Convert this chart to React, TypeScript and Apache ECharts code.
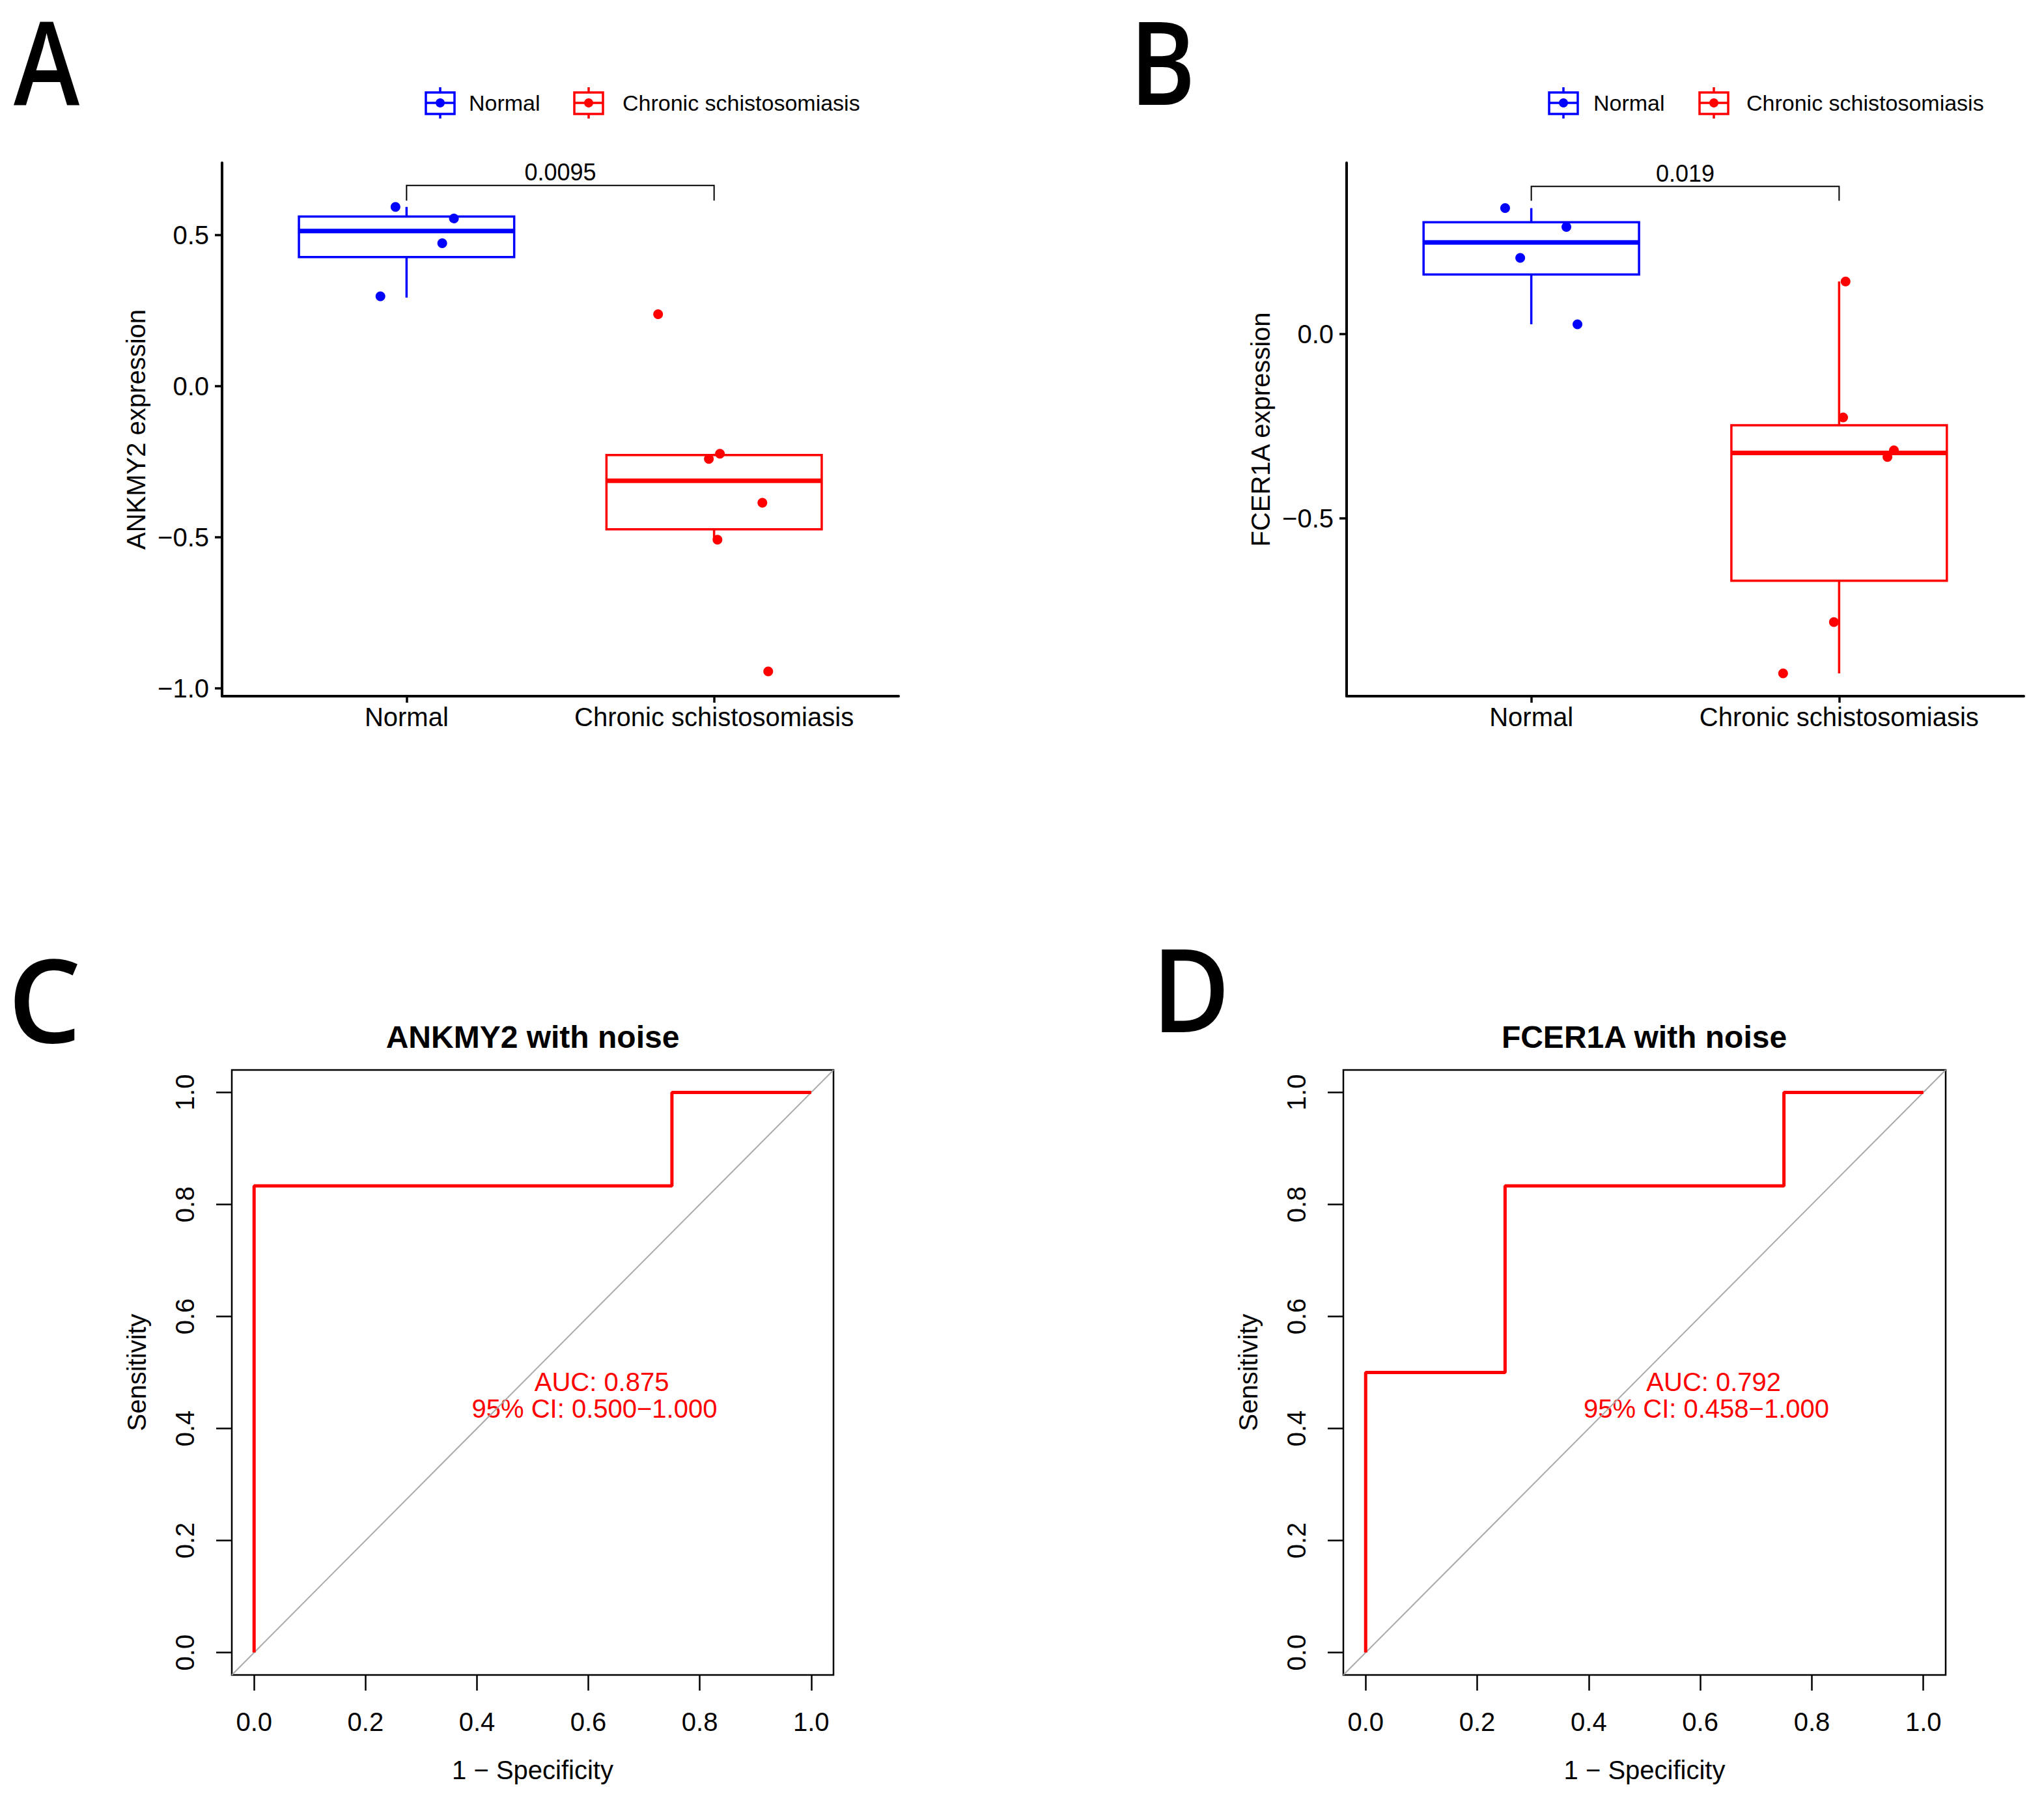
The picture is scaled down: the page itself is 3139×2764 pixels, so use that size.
import { useEffect, useRef } from "react";
import * as echarts from "echarts";

const FONT = '"Liberation Sans", Arial, Helvetica, sans-serif';
const BLUE = "#0000FF";
const RED = "#FF0000";

const groups = ["Normal", "Chronic schistosomiasis"];

// Panel A - ANKMY2 expression (jitter = horizontal offset from group centre)
const ankNormalY = [0.593, 0.555, 0.473, 0.297];
const ankNormalJitter = [-0.036, 0.154, 0.116, -0.085];
const ankChronicY = [0.238, -0.241, -0.224, -0.386, -0.508, -0.944];
const ankChronicJitter = [-0.182, -0.017, 0.019, 0.157, 0.011, 0.176];
// [lower whisker, Q1, median, Q3, upper whisker]
const ankNormalBox = [0.293, 0.427, 0.513, 0.561, 0.593];
const ankChronicBox = [-0.508, -0.474, -0.313, -0.228, -0.224];
const ankYTicks = [-1, -0.5, 0, 0.5];
const ankBracket = [0.614, 0.664];
const ankP = "0.0095";

// Panel B - FCER1A expression
const fceNormalY = [0.342, 0.291, 0.207, 0.027];
const fceNormalJitter = [-0.085, 0.114, -0.036, 0.15];
const fceChronicY = [0.143, -0.226, -0.315, -0.333, -0.781, -0.92];
const fceChronicJitter = [0.021, 0.013, 0.178, 0.157, -0.017, -0.182];
const fceNormalBox = [0.027, 0.162, 0.249, 0.304, 0.342];
const fceChronicBox = [-0.92, -0.669, -0.322, -0.247, 0.143];
const fceYTicks = [-0.5, 0];
const fceBracket = [0.362, 0.401];
const fceP = "0.019";

// Panels C, D - ROC curves
const rocTicks = [0, 0.2, 0.4, 0.6, 0.8, 1.0];
const rocRange = [-0.04, 1.04];
const ankFpr = [0, 0, 0.75, 0.75, 1];
const ankTpr = [0, 0.833, 0.833, 1, 1];
const fceFpr = [0, 0, 0.25, 0.25, 0.75, 0.75, 1];
const fceTpr = [0, 0.5, 0.5, 0.833, 0.833, 1, 1];
const ankAucText = ["AUC: 0.875", "95% CI: 0.500\u22121.000"];
const fceAucText = ["AUC: 0.792", "95% CI: 0.458\u22121.000"];
const aucX = [0.624, 0.611];
const aucY = [0.483, 0.436];

const fmt1 = (v: number) => v.toFixed(1).replace("-", "\u2212");

const ggX = (gridIndex: number) => ({
  type: "value",
  gridIndex,
  min: 0.4,
  max: 2.6,
  axisLine: { show: true, onZero: false, lineStyle: { color: "#000", width: 4 } },
  axisTick: { show: true, length: 10, customValues: [1, 2], lineStyle: { color: "#000", width: 3.5 } },
  axisLabel: {
    customValues: [1, 2],
    formatter: (v: number) => groups[Math.round(v) - 1],
    fontSize: 40,
    fontFamily: FONT,
    color: "#000",
    margin: 12,
  },
  splitLine: { show: false },
});

const ggY = (gridIndex: number, min: number, max: number, ticks: number[], name: string) => ({
  type: "value",
  gridIndex,
  min,
  max,
  name,
  nameLocation: "middle",
  nameGap: 112,
  nameTextStyle: { fontSize: 40, fontFamily: FONT, color: "#000" },
  axisLine: { show: true, onZero: false, lineStyle: { color: "#000", width: 4 } },
  axisTick: { show: true, length: 11, customValues: ticks, lineStyle: { color: "#000", width: 3.5 } },
  axisLabel: { customValues: ticks, formatter: fmt1, fontSize: 40, fontFamily: FONT, color: "#000", margin: 20 },
  splitLine: { show: false },
});

const rocX = (gridIndex: number) => ({
  type: "value",
  gridIndex,
  min: rocRange[0],
  max: rocRange[1],
  name: "1 \u2212 Specificity",
  nameLocation: "middle",
  nameGap: 126,
  nameTextStyle: { fontSize: 40, fontFamily: FONT, color: "#000" },
  axisLine: { show: false, onZero: false },
  axisTick: { show: true, length: 24, customValues: rocTicks, lineStyle: { color: "#000", width: 2.5 } },
  axisLabel: { customValues: rocTicks, formatter: fmt1, fontSize: 40, fontFamily: FONT, color: "#000", margin: 52 },
  splitLine: { show: false },
});

const rocY = (gridIndex: number) => ({
  type: "value",
  gridIndex,
  min: rocRange[0],
  max: rocRange[1],
  name: "Sensitivity",
  nameLocation: "middle",
  nameGap: 126,
  nameTextStyle: { fontSize: 40, fontFamily: FONT, color: "#000" },
  axisLine: { show: false, onZero: false },
  axisTick: { show: true, length: 24, customValues: rocTicks, lineStyle: { color: "#000", width: 2.5 } },
  axisLabel: { customValues: rocTicks, formatter: fmt1, rotate: 90, fontSize: 40, fontFamily: FONT, color: "#000", margin: 52 },
  splitLine: { show: false },
});

// box + whiskers + median, ggplot style
const boxSeries = (gridIndex: number, x: number, stats: number[], color: string) => ({
  type: "custom",
  xAxisIndex: gridIndex,
  yAxisIndex: gridIndex,
  silent: true,
  data: [[x, ...stats]],
  renderItem: (_params: any, api: any) => {
    const cx = api.value(0);
    const halfW = api.size([0.35, 0])[0];
    const px = api.coord([cx, 0])[0];
    const y = (i: number) => api.coord([cx, api.value(i)])[1];
    const lo = y(1), q1 = y(2), med = y(3), q3 = y(4), hi = y(5);
    const line = (x1: number, y1: number, x2: number, y2: number, w: number) => ({
      type: "line",
      shape: { x1, y1, x2, y2 },
      style: { stroke: color, lineWidth: w },
    });
    return {
      type: "group",
      children: [
        line(px, q3, px, hi, 3.5),
        line(px, q1, px, lo, 3.5),
        {
          type: "rect",
          shape: { x: px - halfW, y: q3, width: 2 * halfW, height: q1 - q3 },
          style: { fill: "#fff", stroke: color, lineWidth: 3.5 },
        },
        line(px - halfW, med, px + halfW, med, 7),
      ],
    };
  },
});

const jitterSeries = (gridIndex: number, x: number, ys: number[], jit: number[], color: string) => ({
  type: "scatter",
  xAxisIndex: gridIndex,
  yAxisIndex: gridIndex,
  symbolSize: 15,
  itemStyle: { color, opacity: 1 },
  data: ys.map((v, i) => [x + jit[i], v]),
});

const bracketSeries = (gridIndex: number, br: number[], label: string) => ({
  type: "custom",
  xAxisIndex: gridIndex,
  yAxisIndex: gridIndex,
  silent: true,
  data: [[1, 2, br[0], br[1]]],
  renderItem: (_params: any, api: any) => {
    const a = api.coord([api.value(0), api.value(2)]);
    const b = api.coord([api.value(0), api.value(3)]);
    const c = api.coord([api.value(1), api.value(3)]);
    const d = api.coord([api.value(1), api.value(2)]);
    return {
      type: "group",
      children: [
        { type: "polyline", shape: { points: [a, b, c, d] }, style: { stroke: "#000", lineWidth: 2, fill: "none" } },
        {
          type: "text",
          x: (b[0] + c[0]) / 2,
          y: b[1] - 2,
          style: {
            text: label,
            font: `36px ${FONT}`,
            fill: "#000",
            align: "center",
            verticalAlign: "bottom",
            textAlign: "center",
            textVerticalAlign: "bottom",
          },
        },
      ],
    };
  },
});

const textSeries = (gridIndex: number, xs: number[], ys: number[], texts: string[]) => ({
  type: "custom",
  xAxisIndex: gridIndex,
  yAxisIndex: gridIndex,
  silent: true,
  data: xs.map((x, i) => [x, ys[i]]),
  renderItem: (params: any, api: any) => {
    const p = api.coord([api.value(0), api.value(1)]);
    return {
      type: "text",
      x: p[0],
      y: p[1],
      style: {
        text: texts[params.dataIndex],
        font: `40px ${FONT}`,
        fill: RED,
        align: "center",
        verticalAlign: "middle",
        textAlign: "center",
        textVerticalAlign: "middle",
      },
    };
  },
});

const rocSeries = (gridIndex: number, fpr: number[], tpr: number[]) => [
  {
    type: "line",
    xAxisIndex: gridIndex,
    yAxisIndex: gridIndex,
    symbol: "none",
    silent: true,
    lineStyle: { color: "#A9A9A9", width: 2 },
    data: [
      [rocRange[0], rocRange[0]],
      [rocRange[1], rocRange[1]],
    ],
  },
  {
    type: "line",
    xAxisIndex: gridIndex,
    yAxisIndex: gridIndex,
    symbol: "none",
    silent: true,
    lineStyle: { color: RED, width: 5 },
    data: fpr.map((f, i) => [f, tpr[i]]),
  },
];

const legendItem = (cx: number, cy: number, color: string, label: string, textX: number) => [
  { type: "line", shape: { x1: cx, y1: cy - 24, x2: cx, y2: cy + 24 }, style: { stroke: color, lineWidth: 3.5 } },
  { type: "rect", shape: { x: cx - 22, y: cy - 16, width: 44, height: 33 }, style: { fill: "#fff", stroke: color, lineWidth: 3.5 } },
  { type: "line", shape: { x1: cx - 22, y1: cy, x2: cx + 22, y2: cy }, style: { stroke: color, lineWidth: 3.5 } },
  { type: "circle", shape: { cx, cy, r: 7 }, style: { fill: color } },
  {
    type: "text",
    x: textX,
    y: cy,
    style: { text: label, font: `34px ${FONT}`, fill: "#000", verticalAlign: "middle", textVerticalAlign: "middle" },
  },
];

const panelLetter = (letter: string, x: number, y: number, sx: number) => ({
  type: "text",
  x,
  y,
  scaleX: sx,
  style: {
    text: letter,
    font: '600 178px "Open Sans", "Noto Sans", sans-serif',
    lineHeight: 140,
    fill: "#000",
    verticalAlign: "middle",
    textVerticalAlign: "middle",
  },
});

const plotTitle = (text: string, x: number, y: number) => ({
  type: "text",
  x,
  y,
  style: {
    text,
    font: `bold 48px ${FONT}`,
    fill: "#000",
    align: "center",
    verticalAlign: "middle",
    textAlign: "center",
    textVerticalAlign: "middle",
  },
});

function buildOption() {
  return {
    animation: false,
    backgroundColor: "#fff",
    grid: [
      { left: 341, top: 250, width: 1039, height: 819, outerBoundsMode: "none" },
      { left: 2068, top: 250, width: 1040, height: 819, outerBoundsMode: "none" },
      { left: 356, top: 1643, width: 924, height: 929, show: true, borderColor: "#000", borderWidth: 2.5, outerBoundsMode: "none" },
      { left: 2063, top: 1643, width: 925, height: 929, show: true, borderColor: "#000", borderWidth: 2.5, outerBoundsMode: "none" },
    ],
    xAxis: [ggX(0), ggX(1), rocX(2), rocX(3)],
    yAxis: [
      ggY(0, -1.026, 0.739, ankYTicks, "ANKMY2 expression"),
      ggY(1, -0.982, 0.465, fceYTicks, "FCER1A expression"),
      rocY(2),
      rocY(3),
    ],
    series: [
      boxSeries(0, 1, ankNormalBox, BLUE),
      boxSeries(0, 2, ankChronicBox, RED),
      jitterSeries(0, 1, ankNormalY, ankNormalJitter, BLUE),
      jitterSeries(0, 2, ankChronicY, ankChronicJitter, RED),
      bracketSeries(0, ankBracket, ankP),
      boxSeries(1, 1, fceNormalBox, BLUE),
      boxSeries(1, 2, fceChronicBox, RED),
      jitterSeries(1, 1, fceNormalY, fceNormalJitter, BLUE),
      jitterSeries(1, 2, fceChronicY, fceChronicJitter, RED),
      bracketSeries(1, fceBracket, fceP),
      ...rocSeries(2, ankFpr, ankTpr),
      textSeries(2, aucX, aucY, ankAucText),
      ...rocSeries(3, fceFpr, fceTpr),
      textSeries(3, aucX, aucY, fceAucText),
    ],
    graphic: [
      panelLetter("A", 21, 92, 0.86),
      panelLetter("B", 1735, 92, 0.86),
      panelLetter("C", 12, 1532, 1.0),
      panelLetter("D", 1769, 1516, 0.92),
      ...legendItem(676, 158, BLUE, groups[0], 720),
      ...legendItem(904, 158, RED, groups[1], 956),
      ...legendItem(2401, 158, BLUE, groups[0], 2447),
      ...legendItem(2632, 158, RED, groups[1], 2682),
      plotTitle("ANKMY2 with noise", 818, 1592),
      plotTitle("FCER1A with noise", 2525, 1592),
    ],
  };
}

export default function App() {
  const chartRef = useRef<HTMLDivElement>(null);

  useEffect(() => {
    if (!chartRef.current) return;
    const chart = echarts.init(chartRef.current, null, { renderer: "svg" });
    chart.setOption(buildOption() as any);
    return () => {
      chart.dispose();
    };
  }, []);

  return (
    <div
      ref={chartRef}
      style={{ position: "absolute", left: 0, top: 0, width: 3139, height: 2764, background: "#fff" }}
    />
  );
}
